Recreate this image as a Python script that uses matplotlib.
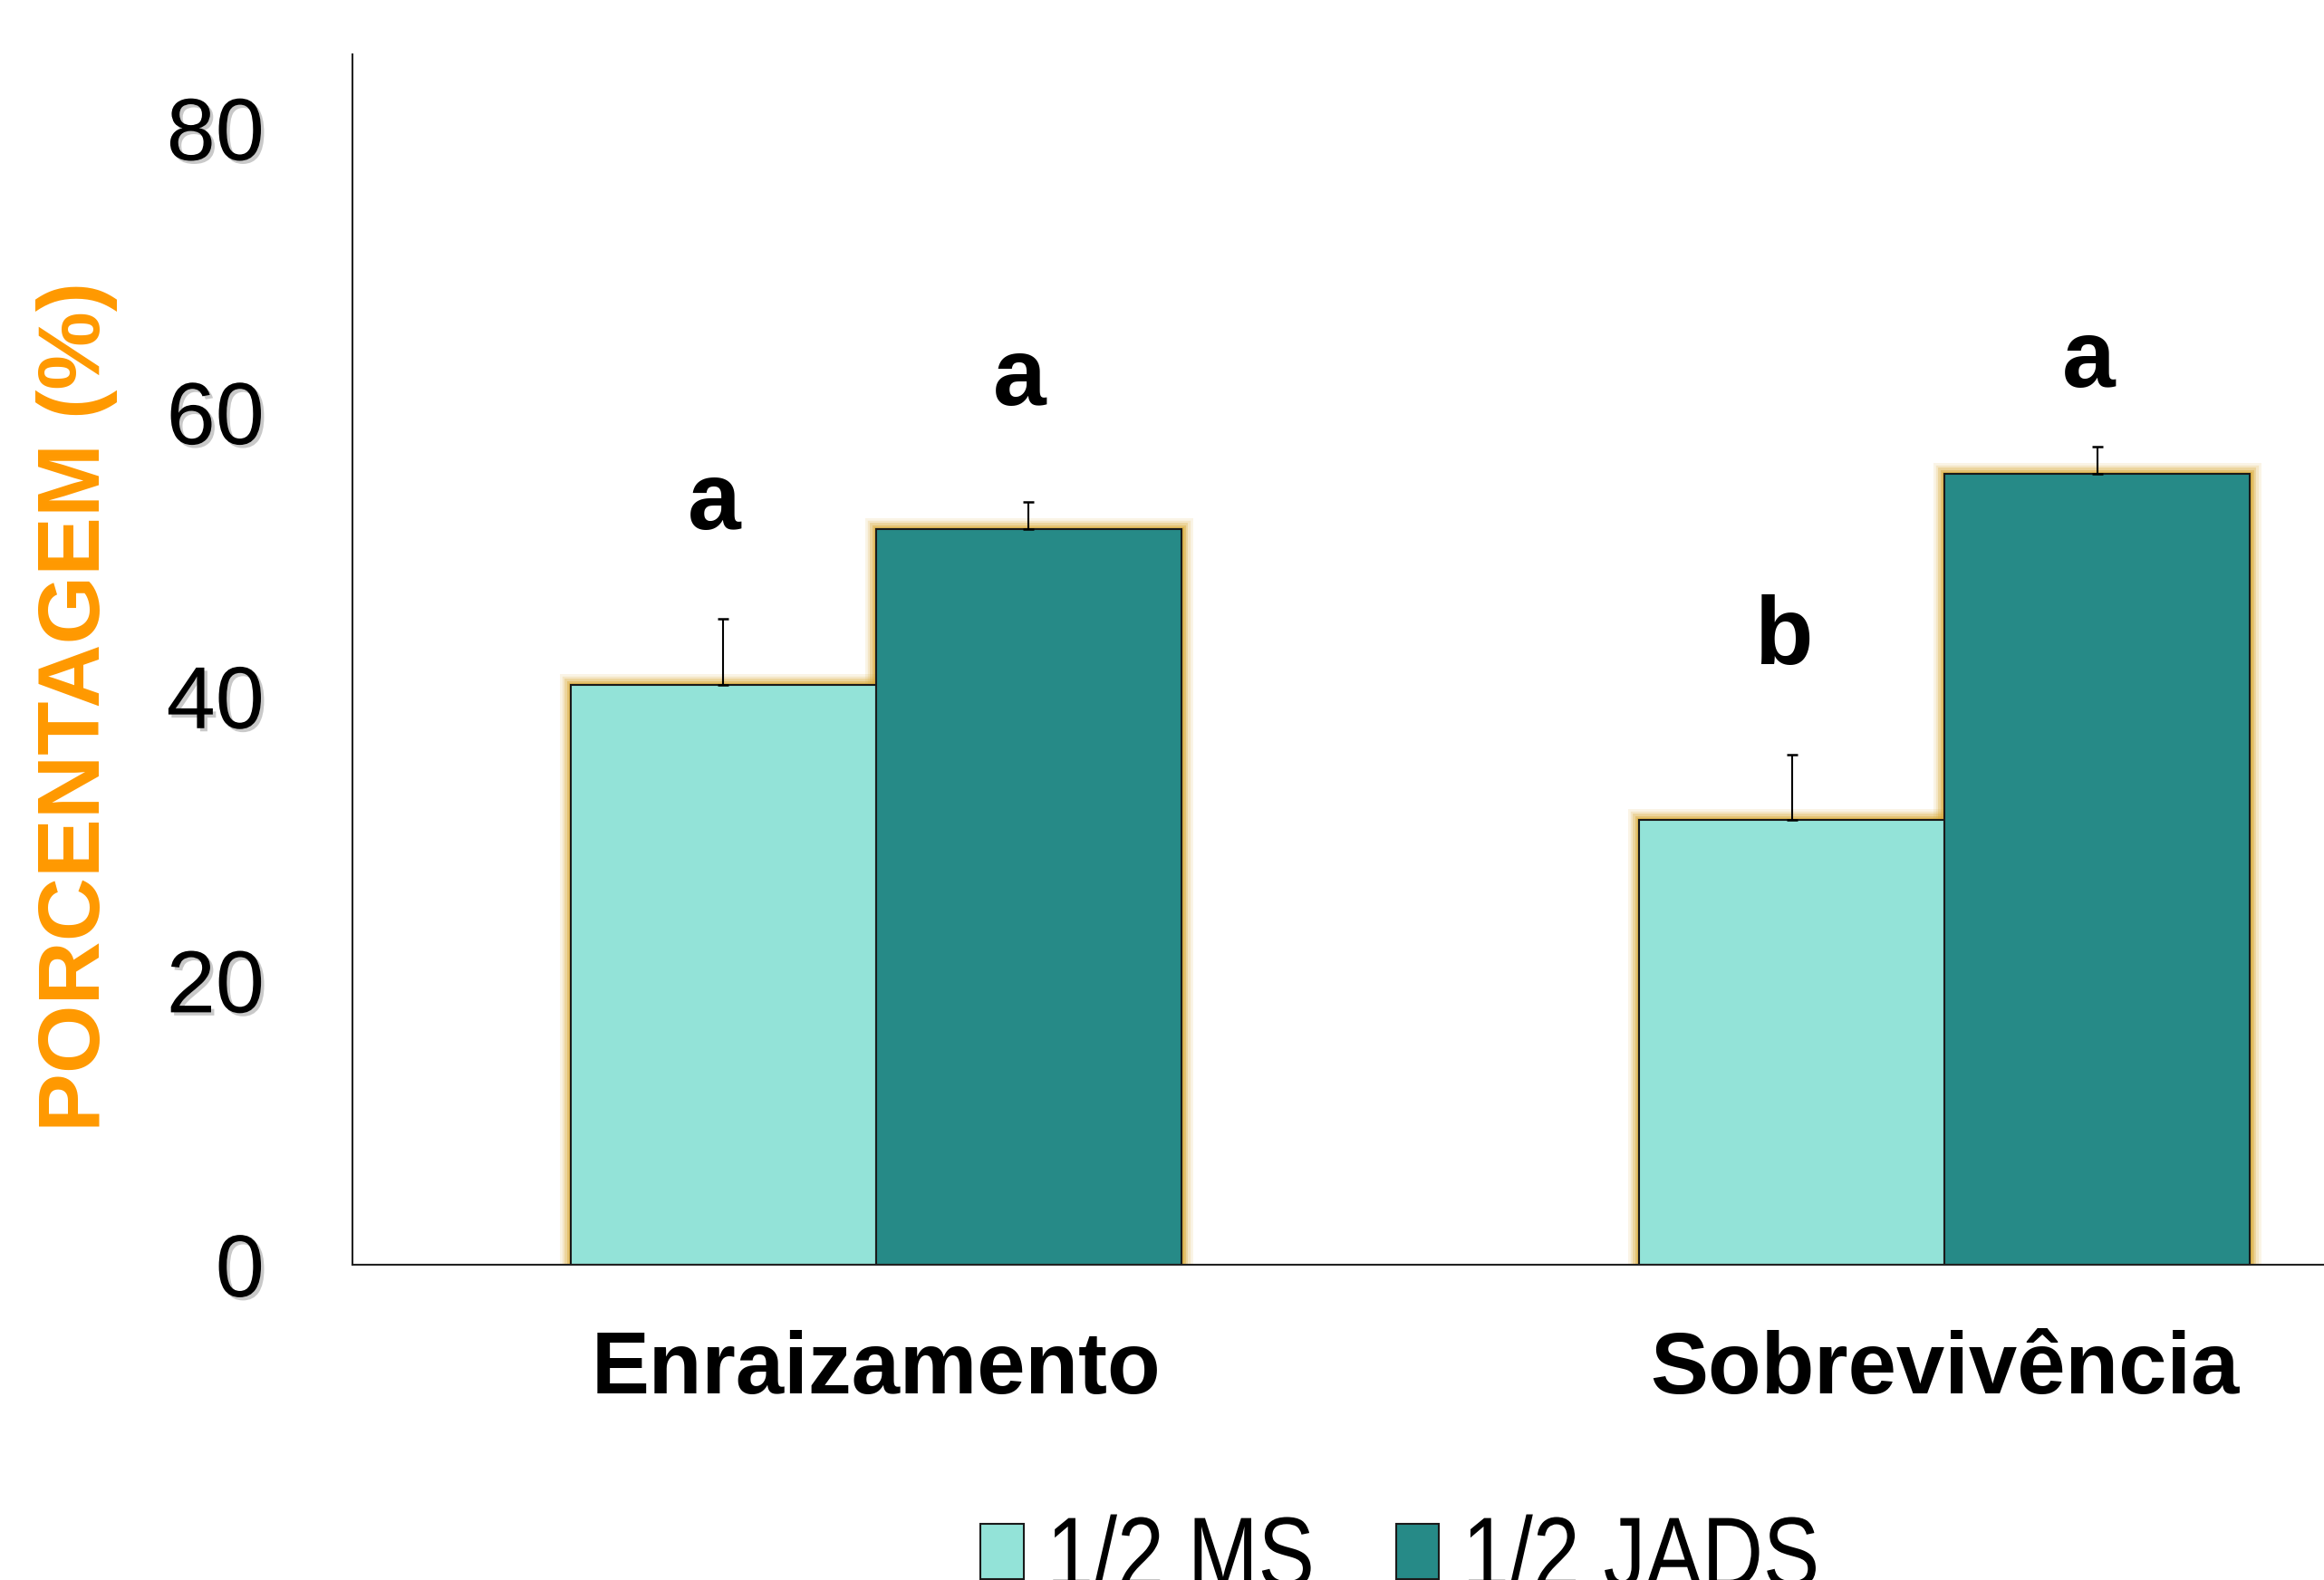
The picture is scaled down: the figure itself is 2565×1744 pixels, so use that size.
import matplotlib
matplotlib.use("Agg")
import matplotlib.pyplot as plt
import matplotlib.patheffects as pe
from matplotlib.transforms import Affine2D
import numpy as np

plt.rcParams["font.family"] = ["Liberation Sans", "DejaVu Sans"]

# 数据
categories = ["Enraizamento", "Sobrevivência"]
series_names = ["1/2 MS", "1/2 JADS"]
ms_mean = [40.8, 31.3]
ms_err = [4.7, 4.6]
jads_mean = [51.8, 55.7]
jads_err = [1.9, 1.9]
ms_letters = ["a", "b"]
jads_letters = ["a", "a"]
yticks = [0, 20, 40, 60, 80]

C_MS = "#93E3D8"
C_JADS = "#268A87"
GLOW = "#D9A935"

# 字母离误差线顶端的距离（按柱子微调）
ms_gap = [6.3, 6.4]
jads_gap = [6.85, 4.2]


class Squeeze(pe.AbstractPathEffect):
    """把文字水平压窄，模拟窄体字。"""

    def __init__(self, sx):
        super().__init__()
        self.sx = sx

    def draw_path(self, renderer, gc, tpath, affine, rgbFace=None):
        renderer.draw_path(gc, tpath, Affine2D().scale(self.sx, 1) + affine,
                           rgbFace)


fig = plt.figure(figsize=(25.65, 17.44), dpi=100)
ax = fig.add_axes([389 / 2565, 348 / 1744, 1 - 389 / 2565, 1336 / 1744])

x = np.arange(len(categories))
w = 0.2857
x_ms = x - w / 2
x_jads = x + w / 2

# 柱子外圈的黄色光晕（先画，压在柱子下面）
for lw, a in [(18, 0.12), (14, 0.18), (10, 0.28), (6.5, 0.42), (3.5, 0.6)]:
    for xs, vals in [(x_ms, ms_mean), (x_jads, jads_mean)]:
        ax.bar(xs, vals, w, color="none", edgecolor=GLOW, linewidth=lw,
               alpha=a, zorder=1)

ax.bar(x_ms, ms_mean, w, color=C_MS, edgecolor="#1a1a1a", linewidth=1.5,
       zorder=2, label=series_names[0])
ax.bar(x_jads, jads_mean, w, color=C_JADS, edgecolor="#1a1a1a", linewidth=1.5,
       zorder=2, label=series_names[1])

# 只画向上的误差线
for xs, vals, errs in [(x_ms, ms_mean, ms_err), (x_jads, jads_mean, jads_err)]:
    ax.errorbar(xs, vals, yerr=[np.zeros(len(errs)), errs], fmt="none",
                ecolor="black", elinewidth=1.5, capsize=4.5, capthick=1.8,
                zorder=3)

# 显著性字母
for xs, vals, errs, letters, gaps in [
        (x_ms, ms_mean, ms_err, ms_letters, ms_gap),
        (x_jads, jads_mean, jads_err, jads_letters, jads_gap)]:
    for xi, v, e, t, g in zip(xs, vals, errs, letters, gaps):
        ax.text(xi - 0.008, v + e + g, t, ha="center", va="baseline",
                fontsize=76, fontweight="bold", color="black", zorder=4)

ax.set_xlim(-0.4896, 1.355)
ax.set_ylim(0, 85.2)

ax.set_yticks(yticks)
ax.set_yticklabels([str(v) for v in yticks], fontsize=70)
shadow = [pe.withSimplePatchShadow(offset=(2.5, -2.5), shadow_rgbFace="#888888",
                                   alpha=0.45)]
for lab in ax.get_yticklabels():
    lab.set_path_effects(shadow)
ax.tick_params(axis="y", length=0, pad=70)

ax.set_xticks(x)
ax.set_xticklabels(categories, fontsize=69, fontweight="bold")
ax.tick_params(axis="x", length=0, pad=52)

ax.set_ylabel("PORCENTAGEM (%)", fontsize=70, fontweight="bold",
              color="#FF9900")
ax.yaxis.set_label_coords(-0.119, 0.461)

for s in ["top", "right"]:
    ax.spines[s].set_visible(False)
for s in ["left", "bottom"]:
    ax.spines[s].set_linewidth(1.5)
    ax.spines[s].set_color("#222222")

leg = fig.legend(loc="center", bbox_to_anchor=(0.617, 0.012), ncol=2,
                 frameon=False, fontsize=80,
                 handlelength=0.43, handleheight=0.46, handletextpad=0.23,
                 columnspacing=0.3)
for t in leg.get_texts():
    t.set_path_effects([Squeeze(0.84)])
for h in leg.legend_handles:
    h.set_edgecolor("#1a1a1a")
    h.set_linewidth(1.5)

fig.savefig("out.png", dpi=100)
